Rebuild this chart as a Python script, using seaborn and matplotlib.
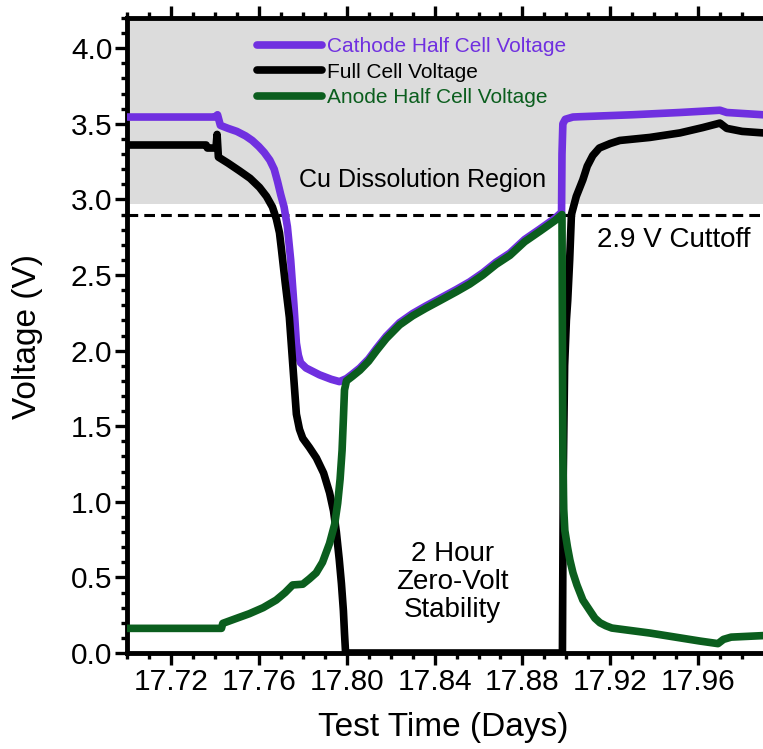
import matplotlib
matplotlib.use("Agg")
import matplotlib.pyplot as plt
import matplotlib.ticker as mticker
import pandas as pd
import seaborn as sns

# Cathode half cell voltage (purple)
cathode_t = [17.7000, 17.7400, 17.7412, 17.7425, 17.7460, 17.7500, 17.7540, 17.7570,
             17.7600, 17.7625, 17.7650, 17.7670, 17.7685, 17.7700, 17.7715, 17.7730,
             17.7745, 17.7760, 17.7771, 17.7780, 17.7790, 17.7815, 17.7876, 17.7930,
             17.7967, 17.7999, 17.8026, 17.8060, 17.8100, 17.8136, 17.8180, 17.8241,
             17.8300, 17.8360, 17.8424, 17.8500, 17.8560, 17.8620, 17.8680, 17.8743,
             17.8810, 17.8880, 17.8948, 17.8978, 17.8980, 17.8984, 17.8995, 17.9030,
             17.9061, 17.9300, 17.9517, 17.9699, 17.9730, 17.9895]
cathode_v = [3.545, 3.545, 3.56, 3.49, 3.47, 3.45, 3.42, 3.39,
             3.35, 3.31, 3.26, 3.20, 3.12, 3.03, 2.95, 2.82,
             2.60, 2.30, 2.05, 1.97, 1.92, 1.885, 1.84, 1.81,
             1.795, 1.815, 1.845, 1.885, 1.945, 2.015, 2.095, 2.185,
             2.245, 2.295, 2.345, 2.405, 2.455, 2.515, 2.585, 2.645,
             2.735, 2.805, 2.875, 2.915, 3.30, 3.50, 3.53, 3.545,
             3.547, 3.56, 3.575, 3.59, 3.575, 3.56]

# Full cell voltage (black)
full_t = [17.7000, 17.7360, 17.7366, 17.7405, 17.7410, 17.7416, 17.7460, 17.7511,
          17.7560, 17.7603, 17.7635, 17.7662, 17.7680, 17.7694, 17.7703, 17.7720,
          17.7739, 17.7755, 17.7771, 17.7785, 17.7800, 17.7830, 17.7862, 17.7895,
          17.7922, 17.7940, 17.7953, 17.7966, 17.7976, 17.7985, 17.7990, 17.7995,
          17.8500, 17.8982, 17.8986, 17.8992, 17.9000, 17.9006, 17.9015, 17.9023,
          17.9045, 17.9075, 17.9095, 17.9120, 17.9150, 17.9200, 17.9243, 17.9380,
          17.9517, 17.9620, 17.9699, 17.9730, 17.9800, 17.9895]
full_v = [3.36, 3.36, 3.34, 3.34, 3.43, 3.28, 3.24, 3.19,
          3.14, 3.08, 3.02, 2.95, 2.87, 2.78, 2.67, 2.45,
          2.22, 1.90, 1.58, 1.48, 1.42, 1.36, 1.29, 1.19,
          1.06, 0.94, 0.80, 0.62, 0.46, 0.28, 0.13, 0.0,
          0.0, 0.0, 1.20, 1.90, 2.20, 2.33, 2.60, 2.90,
          3.02, 3.13, 3.22, 3.29, 3.34, 3.37, 3.39, 3.41,
          3.44, 3.475, 3.505, 3.47, 3.45, 3.44]

# Anode half cell voltage (green)
anode_t = [17.7000, 17.7430, 17.7436, 17.7500, 17.7557, 17.7620, 17.7679, 17.7720,
           17.7754, 17.7800, 17.7830, 17.7861, 17.7890, 17.7922, 17.7945, 17.7959,
           17.7970, 17.7979, 17.7985, 17.7990, 17.7999, 17.8026, 17.8060, 17.8100,
           17.8136, 17.8180, 17.8241, 17.8300, 17.8360, 17.8424, 17.8500, 17.8560,
           17.8620, 17.8680, 17.8743, 17.8810, 17.8880, 17.8948, 17.8980, 17.8984,
           17.8988, 17.8993, 17.9005, 17.9016, 17.9030, 17.9048, 17.9075, 17.9107,
           17.9130, 17.9153, 17.9180, 17.9207, 17.9380, 17.9608, 17.9690, 17.9715,
           17.9750, 17.9895]
anode_v = [0.163, 0.163, 0.196, 0.23, 0.26, 0.30, 0.35, 0.40,
           0.45, 0.455, 0.49, 0.53, 0.60, 0.725, 0.85, 0.99,
           1.15, 1.34, 1.55, 1.74, 1.80, 1.83, 1.87, 1.93,
           2.00, 2.08, 2.17, 2.23, 2.28, 2.33, 2.39, 2.44,
           2.50, 2.57, 2.63, 2.72, 2.79, 2.86, 2.90, 1.30,
           0.95, 0.81, 0.70, 0.615, 0.53, 0.45, 0.35, 0.28,
           0.23, 0.20, 0.18, 0.165, 0.132, 0.079, 0.062, 0.09,
           0.105, 0.115]

labels = ["Cathode Half Cell Voltage", "Full Cell Voltage", "Anode Half Cell Voltage"]
colors = ["#7030E0", "#000000", "#0B5E1E"]

cutoff = 2.9
cu_region_low = 2.97

df = pd.concat([
    pd.DataFrame({"t": cathode_t, "v": cathode_v, "series": labels[0]}),
    pd.DataFrame({"t": full_t, "v": full_v, "series": labels[1]}),
    pd.DataFrame({"t": anode_t, "v": anode_v, "series": labels[2]}),
])

sns.set_theme(style="ticks")
plt.rcParams["font.family"] = ["Liberation Sans", "DejaVu Sans"]
plt.rcParams["text.color"] = "black"
plt.rcParams["axes.labelcolor"] = "black"
plt.rcParams["xtick.color"] = "black"
plt.rcParams["ytick.color"] = "black"

fig = plt.figure(figsize=(7.63, 7.49), dpi=100)
ax = fig.add_axes([127 / 763, 96 / 749, 636 / 763, 635 / 749])

ax.axhspan(cu_region_low, 4.5, color="#DCDCDC", lw=0, zorder=0)
ax.axhline(cutoff, color="black", lw=2.2, ls=(0, (3.5, 2.0)), zorder=1)

for lab, col in zip(labels, colors):
    sns.lineplot(data=df[df["series"] == lab], x="t", y="v", ax=ax, color=col,
                 lw=5.5, estimator=None, sort=False, label=lab, zorder=3)

ax.set_xlim(17.70, 17.9895)
ax.set_ylim(0, 4.2)

ax.xaxis.set_major_locator(mticker.MultipleLocator(0.04))
ax.xaxis.set_minor_locator(mticker.MultipleLocator(0.01))
ax.xaxis.set_major_formatter(mticker.FormatStrFormatter("%.2f"))
ax.yaxis.set_major_locator(mticker.MultipleLocator(0.5))
ax.yaxis.set_minor_locator(mticker.MultipleLocator(0.1))
ax.yaxis.set_major_formatter(mticker.FormatStrFormatter("%.1f"))

ax.tick_params(which="both", direction="out", top=True, right=False, width=2.4,
               color="black", labelcolor="black")
ax.tick_params(which="major", length=8.5, labelsize=21.5, pad=2)
ax.tick_params(which="minor", length=4)
ax.tick_params(axis="x", which="both", labeltop=False)

for side in ["left", "bottom", "top"]:
    ax.spines[side].set_linewidth(3.5)
    ax.spines[side].set_color("black")
ax.spines["right"].set_visible(False)

ax.set_xlabel("Test Time (Days)", fontsize=24, color="black")
ax.set_ylabel("Voltage (V)", fontsize=24, color="black")
ax.xaxis.set_label_coords(0.498, -0.093)
ax.yaxis.set_label_coords(-0.132, 0.499)

ax.text(17.8347, 3.082, "Cu Dissolution Region", fontsize=18, ha="center",
        va="baseline", color="black")
ax.text(17.9487, 2.685, "2.9 V Cuttoff", fontsize=20, ha="center", va="baseline",
        color="black")
ax.text(17.8483, 0.47, "2 Hour\nZero-Volt\nStability", fontsize=20, ha="center",
        va="center", linespacing=1.1, color="black")

leg = ax.legend(loc="upper left", bbox_to_anchor=(0.2047, 0.970), frameon=False,
                fontsize=15, handlelength=3.1, handletextpad=0.25, labelspacing=0.32,
                borderpad=0, borderaxespad=0)
for txt, col in zip(leg.get_texts(), colors):
    txt.set_color(col)

fig.savefig("out.png", dpi=100)
